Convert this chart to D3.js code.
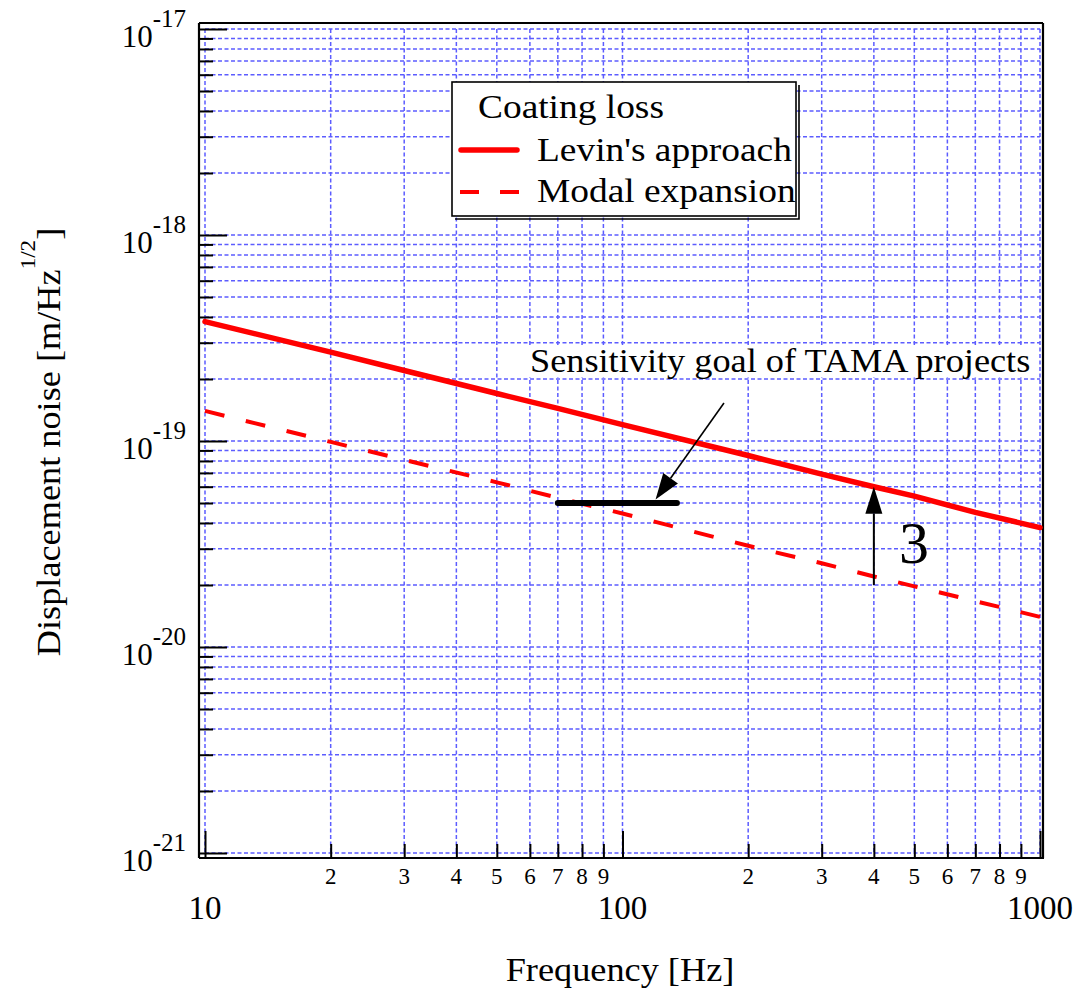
<!DOCTYPE html>
<html><head><meta charset="utf-8">
<script src="https://cdn.jsdelivr.net/npm/d3@7"></script>
<style>
body{margin:0;background:#fff}
svg{display:block}
text{font-family:"Liberation Serif","Times New Roman",Times,serif;fill:#000}
</style>
</head><body>
<svg id="chart" width="1090" height="993"></svg>
<script>
// Frequencies (Hz) and the two coating thermal-noise estimates (m/Hz^1/2)
const freqHz      = [10, 20, 30, 50, 70, 100, 200, 300, 400, 500, 700, 1000];
const levinNoise  = [3.8e-19, 2.7e-19, 2.2e-19, 1.7e-19, 1.44e-19, 1.2e-19, 8.5e-20, 6.9e-20, 6.0e-20, 5.4e-20, 4.5e-20, 3.8e-20];
const modalNoise  = [1.4e-19, 9.9e-20, 8.1e-20, 6.3e-20, 5.3e-20, 4.45e-20, 3.1e-20, 2.55e-20, 2.2e-20, 1.97e-20, 1.67e-20, 1.4e-20];

// TAMA sensitivity goal band: [f start, f end] at a given level
const goalFreq  = [70, 135];
const goalLevel = 5e-20;

// Annotation arrows: [freq, noise] start -> end
const goalArrow  = [[175, 1.53e-19], [120, 5.2e-20]];
const ratioArrow = [[400, 2.0e-20], [400, 6.0e-20]];
const ratioLabel = "3";
const goalLabel  = "Sensitivity goal of TAMA projects";

// Axis labelling
const xMajorTicks  = [10, 100, 1000];
const xMajorLabels = ["10", "100", "1000"];
const yDecades     = [-21, -20, -19, -18, -17];
const legendTitle  = "Coating loss";
const seriesNames  = ["Levin's approach", "Modal expansion"];
const xTitle = "Frequency [Hz]";
const yTitle = "Displacement noise [m/Hz";
const yTitleSup = "1/2";

const svg = d3.select("#chart");

const x = d3.scaleLog().domain([10, 1000]).range([205, 1040]);
const y = d3.scaleLog().domain([1e-21, 1e-17]).range([853, 29]);

const gridColor = "#5c5cff";
const STRETCH = 1.1;   // wider set serif face

// text placed with a slight horizontal stretch along its own baseline
function wideText(parent, px, py, size, str, opts = {}) {
  const rot = opts.rotate ? ` rotate(${opts.rotate})` : "";
  return parent.append("text")
    .attr("transform", `translate(${px},${py})${rot} scale(${STRETCH},1)`)
    .attr("font-size", size)
    .attr("text-anchor", opts.anchor || "start")
    .text(str);
}

// --- grid ---
const grid = svg.append("g");
const xt = x.ticks();
const yt = y.ticks();
grid.selectAll("line.v").data(xt).join("line")
  .attr("x1", d => x(d)).attr("x2", d => x(d))
  .attr("y1", y(1e-17)).attr("y2", y(1e-21))
  .attr("stroke", gridColor).attr("stroke-width", 1.5).attr("stroke-dasharray", "4,2.5");
grid.selectAll("line.h").data(yt).join("line")
  .attr("x1", x(10)).attr("x2", x(1000))
  .attr("y1", d => y(d)).attr("y2", d => y(d))
  .attr("stroke", gridColor).attr("stroke-width", 1.5).attr("stroke-dasharray", "4,2.5");

// --- frame ---
const L = 199, R = 1043, T = 23, B = 858;
const frame = svg.append("g").attr("stroke", "#000").attr("fill", "none");
frame.append("line").attr("x1", L).attr("x2", L).attr("y1", T).attr("y2", B).attr("stroke-width", 2.2);
frame.append("line").attr("x1", L).attr("x2", R + 1).attr("y1", B).attr("y2", B).attr("stroke-width", 2.2);
frame.append("line").attr("x1", L).attr("x2", R).attr("y1", T).attr("y2", T).attr("stroke-width", 2);
frame.append("line").attr("x1", R).attr("x2", R).attr("y1", T).attr("y2", B).attr("stroke-width", 2.2);

const isMajor = v => Math.abs(Math.log10(v) - Math.round(Math.log10(v))) < 1e-6;

// --- y ticks (inward from left frame) ---
const yAxisMinor = d3.axisRight(y).tickValues(yt.filter(d => !isMajor(d))).tickSize(14).tickFormat("");
const yAxisMajor = d3.axisRight(y).tickValues(yt.filter(isMajor)).tickSize(28).tickFormat("");
[yAxisMinor, yAxisMajor].forEach(ax => {
  const g = svg.append("g").attr("transform", `translate(${L},0)`).call(ax);
  g.select(".domain").remove();
  g.selectAll(".tick line").attr("stroke", "#000").attr("stroke-width", 2);
});

// --- x ticks (upward from bottom frame) ---
const xAxisMinor = d3.axisTop(x).tickValues(xt.filter(d => !isMajor(d))).tickSize(14).tickFormat("");
const xAxisMajor = d3.axisTop(x).tickValues(xt.filter(isMajor)).tickSize(27).tickFormat("");
[xAxisMinor, xAxisMajor].forEach(ax => {
  const g = svg.append("g").attr("transform", `translate(0,${B})`).call(ax);
  g.select(".domain").remove();
  g.selectAll(".tick line").attr("stroke", "#000").attr("stroke-width", 2);
});

// --- tick labels ---
svg.append("g").selectAll("text").data(xt.filter(d => !isMajor(d))).join("text")
  .attr("x", d => x(d)).attr("y", 884).attr("text-anchor", "middle")
  .attr("font-size", 23).text(d => String(Math.round(d / Math.pow(10, Math.floor(Math.log10(d) + 1e-9)))));
svg.append("g").selectAll("text").data(xMajorTicks).join("text")
  .attr("x", d => x(d)).attr("y", 919).attr("text-anchor", "middle")
  .attr("font-size", 33).text((d, i) => xMajorLabels[i]);

const yl = svg.append("g").selectAll("text").data(yDecades).join("text")
  .attr("x", 186).attr("y", d => y(Math.pow(10, d)) + 18).attr("text-anchor", "end");
yl.append("tspan").attr("font-size", 31).text("10");
yl.append("tspan").attr("font-size", 25).attr("dy", -20).text(d => String(d));

// --- curves ---
const line = d3.line().x(d => x(d[0])).y(d => y(d[1]));
svg.append("path").datum(freqHz.map((f, i) => [f, modalNoise[i]]))
  .attr("d", line).attr("fill", "none").attr("stroke", "#ff0000")
  .attr("stroke-width", 4).attr("stroke-dasharray", "20,22");
svg.append("path").datum(freqHz.map((f, i) => [f, levinNoise[i]]))
  .attr("d", line).attr("fill", "none").attr("stroke", "#ff0000")
  .attr("stroke-width", 5.5).attr("stroke-linecap", "round");

// --- sensitivity goal bar ---
svg.append("line")
  .attr("x1", x(goalFreq[0])).attr("x2", x(goalFreq[1]))
  .attr("y1", y(goalLevel)).attr("y2", y(goalLevel))
  .attr("stroke", "#000").attr("stroke-width", 6).attr("stroke-linecap", "round");

// arrow helper: shaft plus filled head
function arrow(p0, p1, width, headLen, headW) {
  const x0 = x(p0[0]), y0 = y(p0[1]), x1 = x(p1[0]), y1 = y(p1[1]);
  const dx = x1 - x0, dy = y1 - y0, len = Math.hypot(dx, dy);
  const ux = dx / len, uy = dy / len;
  const bx = x1 - ux * headLen, by = y1 - uy * headLen;
  svg.append("line").attr("x1", x0).attr("y1", y0).attr("x2", bx).attr("y2", by)
    .attr("stroke", "#000").attr("stroke-width", width);
  svg.append("path")
    .attr("d", `M${x1},${y1}L${bx - uy * headW / 2},${by + ux * headW / 2}L${bx + uy * headW / 2},${by - ux * headW / 2}Z`)
    .attr("fill", "#000");
}

// goal label with white backing
const gl = svg.append("g");
gl.append("rect").attr("x", 527).attr("y", 346).attr("width", 498).attr("height", 31).attr("fill", "#fff");
wideText(gl, 530, 372, 33, goalLabel);

arrow(goalArrow[0], goalArrow[1], 1.6, 26, 18);
arrow(ratioArrow[0], ratioArrow[1], 2, 27, 17);
svg.append("text").attr("x", 899).attr("y", 563).attr("font-size", 60).text(ratioLabel);

// --- legend ---
const lg = svg.append("g");
lg.append("rect").attr("x", 452).attr("y", 82).attr("width", 344).attr("height", 134)
  .attr("fill", "#fff").attr("stroke", "#000").attr("stroke-width", 1.6);
lg.append("polyline").attr("points", "799,85 799,219 455,219")
  .attr("fill", "none").attr("stroke", "#000").attr("stroke-width", 1.6);
wideText(lg, 478, 118, 34, legendTitle);
lg.append("line").attr("x1", 461).attr("x2", 517).attr("y1", 150).attr("y2", 150)
  .attr("stroke", "#ff0000").attr("stroke-width", 5.5).attr("stroke-linecap", "round");
lg.append("line").attr("x1", 460).attr("x2", 520).attr("y1", 192).attr("y2", 192)
  .attr("stroke", "#ff0000").attr("stroke-width", 4).attr("stroke-dasharray", "19,21");
wideText(lg, 537, 161, 34, seriesNames[0]);
wideText(lg, 537, 202, 34, seriesNames[1]);

// --- axis titles ---
wideText(svg, 620, 981, 33, xTitle, { anchor: "middle" });
const yTitleText = svg.append("text")
  .attr("transform", `translate(60,442) rotate(-90) scale(${STRETCH},1)`)
  .attr("text-anchor", "middle").attr("font-size", 33);
yTitleText.append("tspan").text(yTitle);
yTitleText.append("tspan").attr("font-size", 21).attr("dy", -25).text(yTitleSup);
yTitleText.append("tspan").attr("dy", 25).text("]");
</script>
</body></html>
